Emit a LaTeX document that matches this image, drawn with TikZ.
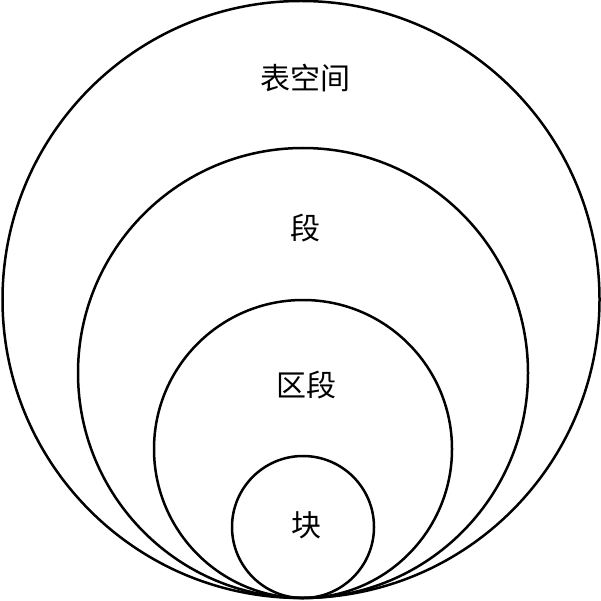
\documentclass[tikz,border=0pt]{standalone}
\usepackage{fontspec}
\newfontfamily\cjk{Noto Sans CJK SC}
\begin{document}
\begin{tikzpicture}[x=1pt,y=-1pt,
  ring/.style={draw=black,line width=2.5pt},
  lab/.style={font=\cjk\fontsize{30}{34}\selectfont,inner sep=0pt}]
\useasboundingbox (0,0) rectangle (601,601);
\draw[ring] (301,299.5) circle (298.5);
\draw[ring] (303,373) circle (225);
\draw[ring] (303,449) circle (149);
\draw[ring] (303,527) circle (71);
\node[lab] (t1) at (305,78) {表空间};
\node[lab] (t2) at (305,228) {段};
\node[lab] (t3) at (306,385) {区段};
\node[lab] (t4) at (306,525) {块};
\end{tikzpicture}
\end{document}
